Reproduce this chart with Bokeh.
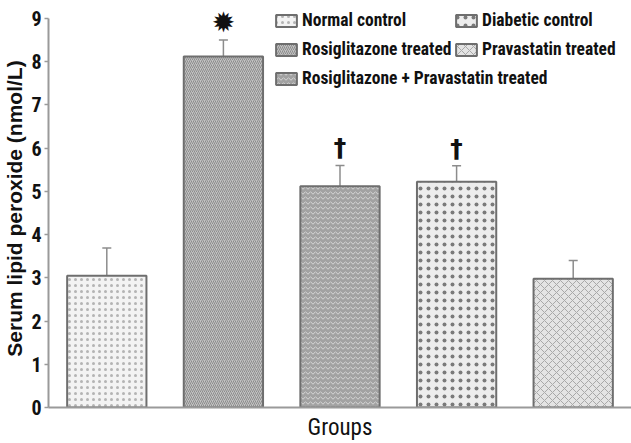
from bokeh.plotting import figure
from bokeh.models import (ColumnDataSource, Range1d, FixedTicker, Whisker, Legend,
                          LegendItem, TeeHead)
from bokeh.core.properties import value
from bokeh.embed import file_html
from bokeh.resources import INLINE

# ---- data ----
groups = ["Normal control", "Rosiglitazone treated",
          "Rosiglitazone + Pravastatin treated", "Diabetic control",
          "Pravastatin treated"]
positions = [1, 2, 3, 4, 5]
means = [3.05, 8.12, 5.12, 5.22, 2.98]
errors = [0.64, 0.38, 0.48, 0.37, 0.42]
marks = ["", "\u2739", "\u2020", "\u2020", ""]
legend_col1 = ["Normal control", "Rosiglitazone treated",
               "Rosiglitazone + Pravastatin treated"]
legend_col2 = ["Diabetic control", "Pravastatin treated"]
y_ticks = [0, 1, 2, 3, 4, 5, 6, 7, 8, 9]

# ---- styles ----
fills = ["#f3f3f3", "#c2c2c2", "#a2a2a2", "#ededed", "#e4e4e4"]
hatches = ["dot", "right_diagonal_line", "horizontal_wave", "dot", "diagonal_cross"]
hatch_colors = ["#b4b4b4", "#8c8c8c", "#d6d6d6", "#7a7a7a", "#a8a8a8"]
hatch_scales = [6, 4, 5, 8, 8]
mark_sizes = ["25px", "28px", "25px", "25px", "25px"]

COND = "'Roboto Condensed', 'Liberation Sans'"

upper = [m + e for m, e in zip(means, errors)]
lower = [m - e for m, e in zip(means, errors)]
mark_y = [u + 0.41 for u in upper]

src = ColumnDataSource(dict(x=positions, top=means, upper=upper, lower=lower,
                            fill=fills, hatch=hatches, hcolor=hatch_colors,
                            hscale=hatch_scales, mark=marks, mark_y=mark_y,
                            msize=mark_sizes, group=groups))

p = figure(width=631, height=443, output_backend="svg", toolbar_location=None,
           x_range=Range1d(0.5, 5.5), y_range=Range1d(0, 9.2077),
           min_border_left=48, min_border_right=0, min_border_top=9,
           min_border_bottom=35)
p.outline_line_color = None
p.grid.visible = False

bars = p.vbar(x="x", top="top", bottom=0, width=0.68, source=src,
              fill_color="fill", line_color="#6e6e6e", line_width=2,
              hatch_pattern="hatch", hatch_color="hcolor", hatch_scale="hscale",
              hatch_weight=1)

err_col = "#8c8c8c"
w = Whisker(source=src, base="x", upper="upper", lower="lower",
            line_color=err_col, line_width=1.5,
            upper_head=TeeHead(size=9, line_color=err_col, line_width=1.5),
            lower_head=TeeHead(size=5, line_color=err_col, line_width=1.5))
p.add_layout(w)

p.text(x="x", y="mark_y", text="mark", source=src, text_align="center",
       text_baseline="middle", text_font=value("DejaVu Sans"),
       text_font_style="bold", text_font_size="msize", text_color="#111111")

ax = p.xaxis[0]
ax.ticker = FixedTicker(ticks=[])
ax.major_tick_out = 0
ax.major_tick_in = 0
ax.axis_line_color = "#9a9a9a"
ax.axis_line_width = 2
ax.axis_label = "Groups"
ax.axis_label_text_font = COND
ax.axis_label_text_font_size = "23px"
ax.axis_label_text_font_style = "normal"
ax.axis_label_text_color = "#111111"
ax.axis_label_standoff = 6

ay = p.yaxis[0]
ay.ticker = FixedTicker(ticks=y_ticks)
ay.bounds = (0, 9)
ay.axis_line_color = "#9a9a9a"
ay.axis_line_width = 2
ay.major_tick_line_color = "#9a9a9a"
ay.major_tick_line_width = 1.5
ay.major_tick_out = 4
ay.major_tick_in = 0
ay.minor_tick_out = 0
ay.minor_tick_in = 0
ay.major_label_text_font = COND
ay.major_label_text_font_style = "bold"
ay.major_label_text_font_size = "20px"
ay.major_label_text_color = "#111111"
ay.major_label_standoff = 3
ay.axis_label = "Serum lipid peroxide (nmol/L)"
ay.axis_label_text_font = "Liberation Sans"
ay.axis_label_text_font_style = "bold"
ay.axis_label_text_font_size = "21px"
ay.axis_label_text_color = "#111111"
ay.axis_label_standoff = 2

def make_legend(names, loc):
    items = [LegendItem(label=n, renderers=[bars], index=groups.index(n)) for n in names]
    lg = Legend(items=items, location=loc, orientation="vertical",
                glyph_width=26, glyph_height=15, label_standoff=3,
                label_height=22, spacing=7, padding=0, margin=0,
                border_line_color=None, background_fill_alpha=0,
                label_text_font=COND, label_text_font_style="bold",
                label_text_font_size="17.5px", label_text_color="#111111")
    p.add_layout(lg)

make_legend(legend_col1, (225, 318))
make_legend(legend_col2, (405, 347))

open("out.html", "w").write(file_html(p, INLINE))
